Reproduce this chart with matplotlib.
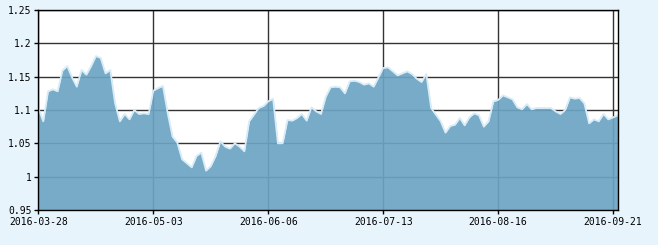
"""Area chart of a net-value series, 2016-03-28 .. 2016-09-22 (trading days)."""
import numpy as np
import matplotlib.pyplot as plt

# daily values, one per trading day
values = [1.102, 1.083, 1.128, 1.131, 1.128, 1.159, 1.166, 1.149, 1.135, 1.160,
          1.153, 1.166, 1.181, 1.178, 1.155, 1.160, 1.110, 1.083, 1.094, 1.086,
          1.100, 1.094, 1.095, 1.094, 1.129, 1.133, 1.136, 1.095, 1.060, 1.051,
          1.026, 1.020, 1.014, 1.031, 1.036, 1.009, 1.016, 1.031, 1.053, 1.045,
          1.042, 1.050, 1.045, 1.038, 1.083, 1.093, 1.103, 1.106, 1.113, 1.117,
          1.050, 1.050, 1.085, 1.084, 1.088, 1.094, 1.084, 1.104, 1.098, 1.094,
          1.120, 1.134, 1.135, 1.134, 1.125, 1.143, 1.144, 1.142, 1.138, 1.140,
          1.135, 1.149, 1.163, 1.164, 1.158, 1.152, 1.155, 1.158, 1.154, 1.147,
          1.142, 1.154, 1.103, 1.093, 1.083, 1.066, 1.076, 1.078, 1.088, 1.077,
          1.089, 1.095, 1.092, 1.075, 1.083, 1.113, 1.115, 1.122, 1.119, 1.116,
          1.104, 1.101, 1.109, 1.101, 1.103, 1.103, 1.103, 1.103, 1.098, 1.094,
          1.100, 1.119, 1.117, 1.118, 1.110, 1.080, 1.086, 1.083, 1.094, 1.086,
          1.089, 1.092]
tick_labels = ['2016-03-28', '2016-05-03', '2016-06-06', '2016-07-13',
               '2016-08-16', '2016-09-21']
tick_step = 24   # one label every 24 trading days
y_ticks = [0.95, 1.0, 1.05, 1.1, 1.15, 1.2, 1.25]
y_labels = ['0.95', '1', '1.05', '1.1', '1.15', '1.2', '1.25']

BG = '#e8f4fc'
FILL = '#6ca4c3'
plt.rcParams['font.family'] = ['DejaVu Sans Mono']

x = np.arange(len(values))
fig = plt.figure(figsize=(6.58, 2.45), dpi=100, facecolor=BG)
ax = fig.add_axes([0.0585, 0.143, 0.8805, 0.816])
ax.set_facecolor('white')

ax.grid(True, color='#333333', lw=1.0, zorder=0)
ax.set_axisbelow(True)
ax.fill_between(x, 0.95, values, color=FILL, alpha=0.92, lw=0, zorder=2)
ax.plot(x, values, color='#d8ecf8', lw=1.3, zorder=3)

ax.set_xlim(0, len(values) - 1)
ax.set_ylim(0.95, 1.25)
ax.set_xticks(np.arange(0, len(values), tick_step)[:len(tick_labels)])
ax.set_xticklabels(tick_labels)
ax.set_yticks(y_ticks)
ax.set_yticklabels(y_labels)
ax.tick_params(direction='out', length=3, width=1, color='black',
               labelsize=7, labelcolor='black', pad=2)
for s in ax.spines.values():
    s.set_color('black'); s.set_linewidth(1.0); s.set_zorder(4)

fig.savefig('out.png', dpi=100, facecolor=BG)
